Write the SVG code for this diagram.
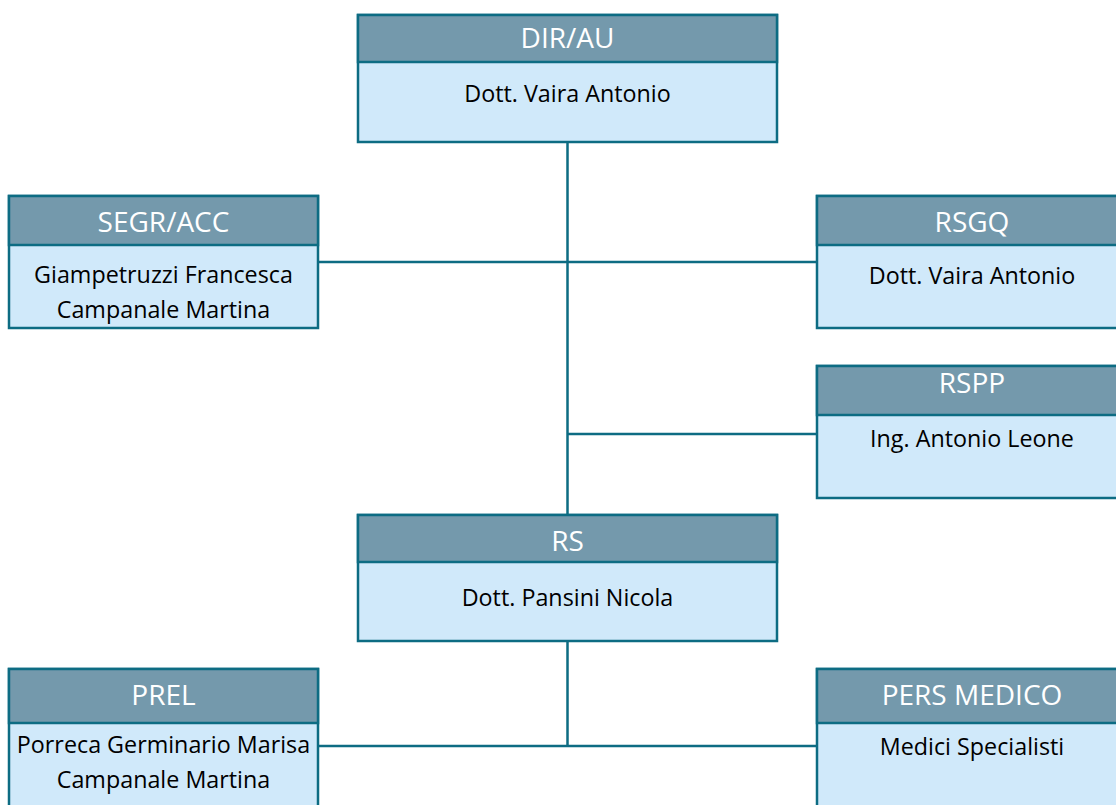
<svg xmlns="http://www.w3.org/2000/svg" width="1116" height="805" viewBox="0 0 1116 805">
<style>
.hd{fill:#7499ac;stroke:#0d6c83;stroke-width:2.5}
.bd{fill:#d0e9fa;stroke:#0d6c83;stroke-width:2.5}
.ht{font-family:"Open Sans","Noto Sans",sans-serif;font-size:28px;fill:#ffffff;text-anchor:middle}
.bt{font-family:"Open Sans","Noto Sans",sans-serif;font-size:23.3px;fill:#000000;text-anchor:middle}
.cn{stroke:#0d6c83;stroke-width:2.5;fill:none}
</style>
<rect width="1116" height="805" fill="#ffffff"/>
<g id="connectors">
<path class="cn" d="M567.5 142V515M318 262H817M567.5 434H817M567.5 641V746M318 746H817"/>
</g>
<g id="dir">
<rect class="bd" x="358" y="15" width="419" height="127"/>
<rect class="hd" x="358" y="15" width="419" height="47"/>
<text class="ht" x="567.5" y="48">DIR/AU</text>
<text class="bt" x="567.5" y="102">Dott. Vaira Antonio</text>
</g>
<g id="segr">
<rect class="bd" x="9" y="196" width="309" height="132"/>
<rect class="hd" x="9" y="196" width="309" height="49"/>
<text class="ht" x="163.5" y="232">SEGR/ACC</text>
<text class="bt" x="163.5" y="283">Giampetruzzi Francesca</text>
<text class="bt" x="163.5" y="318">Campanale Martina</text>
</g>
<g id="rsgq">
<rect class="bd" x="817" y="196" width="310" height="132"/>
<rect class="hd" x="817" y="196" width="310" height="49"/>
<text class="ht" x="972" y="232">RSGQ</text>
<text class="bt" x="972" y="284">Dott. Vaira Antonio</text>
</g>
<g id="rspp">
<rect class="bd" x="817" y="366" width="310" height="132"/>
<rect class="hd" x="817" y="366" width="310" height="49"/>
<text class="ht" x="972" y="393">RSPP</text>
<text class="bt" x="972" y="447">Ing. Antonio Leone</text>
</g>
<g id="rs">
<rect class="bd" x="358" y="515" width="419" height="126"/>
<rect class="hd" x="358" y="515" width="419" height="47"/>
<text class="ht" x="567.5" y="551">RS</text>
<text class="bt" x="567.5" y="606">Dott. Pansini Nicola</text>
</g>
<g id="prel">
<rect class="bd" x="9" y="669" width="309" height="150"/>
<rect class="hd" x="9" y="669" width="309" height="54"/>
<text class="ht" x="163.5" y="705">PREL</text>
<text class="bt" x="163.5" y="753">Porreca Germinario Marisa</text>
<text class="bt" x="163.5" y="788">Campanale Martina</text>
</g>
<g id="pers">
<rect class="bd" x="817" y="669" width="310" height="150"/>
<rect class="hd" x="817" y="669" width="310" height="54"/>
<text class="ht" x="972" y="705">PERS MEDICO</text>
<text class="bt" x="972" y="755">Medici Specialisti</text>
</g>
</svg>
